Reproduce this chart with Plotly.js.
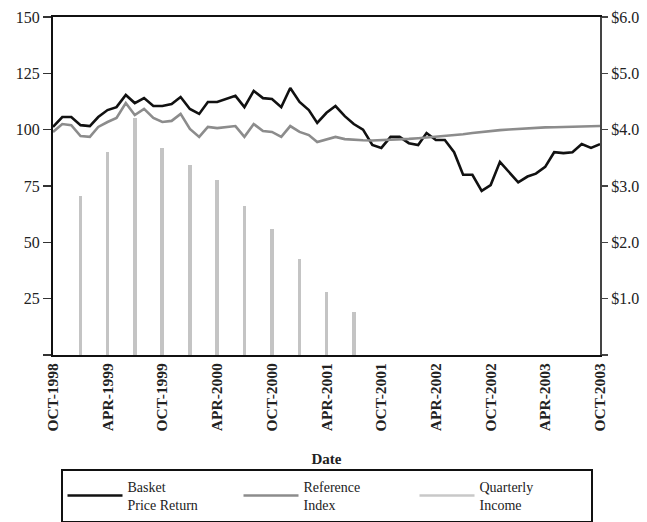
<!DOCTYPE html>
<html>
<head>
<meta charset="utf-8">
<script src="https://cdn.plot.ly/plotly-3.0.1.min.js"></script>
<style>html,body{margin:0;padding:0;background:#fff;}#chart{width:647px;height:522px;}</style>
</head>
<body>
<div id="chart"></div>
<script>
var months = ["1998-10","1998-11","1998-12","1999-01","1999-02","1999-03","1999-04","1999-05","1999-06","1999-07","1999-08","1999-09",
"1999-10","1999-11","1999-12","2000-01","2000-02","2000-03","2000-04","2000-05","2000-06","2000-07","2000-08","2000-09",
"2000-10","2000-11","2000-12","2001-01","2001-02","2001-03","2001-04","2001-05","2001-06","2001-07","2001-08","2001-09",
"2001-10","2001-11","2001-12","2002-01","2002-02","2002-03","2002-04","2002-05","2002-06","2002-07","2002-08","2002-09",
"2002-10","2002-11","2002-12","2003-01","2003-02","2003-03","2003-04","2003-05","2003-06","2003-07","2003-08","2003-09","2003-10"];

var basket = [101.2,105.6,105.6,102,101.6,105.6,108.7,110,115.4,111.8,
114,110.5,110.5,111.4,114.5,109.2,107,112.3,112.3,113.6,
115,110,117.2,114,113.6,110,118.5,112.3,108.7,103,
107.5,110.5,106,102.5,100,93.2,91.9,96.8,96.8,94,
93.2,98.5,95.4,95.4,90,80,80,72.8,75.4,85.7,
81.3,76.6,79.2,80.5,83.5,90,89.6,90,93.6,91.9,93.6];

var reference = [99,102.5,102,97.2,96.8,101.2,103.4,105.2,111.8,106.5,
109.2,105.2,103.4,103.9,107,100.3,96.8,101.2,100.7,101.2,
101.6,96.8,102.5,99.4,99,96.8,101.6,99,97.6,94.5,
95.8,96.8,95.8,95.4,95.3,95.2,95.3,95.5,95.7,95.9,
96.2,96.5,96.9,97.3,97.7,98.0,98.5,99.0,99.5,99.8,
100.1,100.4,100.6,100.8,101.0,101.1,101.2,101.3,101.4,101.5,101.6];

var incomeDates = ["1999-01","1999-04","1999-07","1999-10","2000-01","2000-04","2000-07","2000-10","2001-01","2001-04","2001-07"];
var income = [2.83,3.60,4.20,3.68,3.37,3.10,2.64,2.23,1.70,1.12,0.76];

var xTickVals = ["1998-10","1999-04","1999-10","2000-04","2000-10","2001-04","2001-10","2002-04","2002-10","2003-04","2003-10"];
var xTickText = ["OCT-1998","APR-1999","OCT-1999","APR-2000","OCT-2000","APR-2001","OCT-2001","APR-2002","OCT-2002","APR-2003","OCT-2003"];
var leftTickVals = [0,25,50,75,100,125,150];
var leftTickText = ["","25","50","75","100","125","150"];
var rightTickVals = [0,1,2,3,4,5,6];
var rightTickText = ["","$1.0","$2.0","$3.0","$4.0","$5.0","$6.0"];

var serif = "Liberation Serif, Times New Roman, serif";

var traces = [
  {type:"bar", x:incomeDates, y:income, yaxis:"y", name:"Quarterly<br>Income",
   marker:{color:"#c4c4c4"}, width:1.1e9, showlegend:false, hoverinfo:"skip"},
  {type:"scatter", mode:"lines", x:months, y:basket, yaxis:"y2", name:"Basket<br>Price Return",
   line:{color:"#111111", width:2.6}},
  {type:"scatter", mode:"lines", x:months, y:reference, yaxis:"y2", name:"Reference<br>Index",
   line:{color:"#8c8c8c", width:2.6}},
  {type:"scatter", mode:"lines", x:[null], y:[null], yaxis:"y2", name:"Quarterly<br>Income",
   line:{color:"#c8c8c8", width:2.6}}
];

var layout = {
  width:647, height:522,
  paper_bgcolor:"#ffffff", plot_bgcolor:"#ffffff",
  margin:{l:53, r:47, t:17, b:167},
  font:{family:serif, size:15, color:"#222"},
  showlegend:true,
  bargap:0,
  xaxis:{type:"date", range:["1998-10-01","2003-10-01"], automargin:false,
    tickvals:xTickVals, ticktext:xTickText, tickangle:-90,
    tickfont:{family:serif, size:15.5, color:"#222", weight:"bold"},
    showline:true, mirror:true, linecolor:"#111", linewidth:2,
    showgrid:false, zeroline:false, ticks:"",
    title:{text:"<b>Date</b>", font:{family:serif, size:15, color:"#222"}, standoff:23}},
  yaxis:{side:"right", range:[0,6], tickvals:rightTickVals, ticktext:rightTickText, automargin:false,
    showline:true, linecolor:"#444", linewidth:2, ticks:"outside", ticklen:6, tickwidth:1.5, tickcolor:"#444",
    showgrid:false, zeroline:false, tickfont:{family:serif, size:16, color:"#222"}},
  yaxis2:{side:"left", overlaying:"y", range:[0,150], tickvals:leftTickVals, ticktext:leftTickText, automargin:false,
    showline:true, linecolor:"#111", linewidth:2, ticks:"outside", ticklen:8, tickwidth:1.5, tickcolor:"#333",
    showgrid:false, zeroline:false, tickfont:{family:serif, size:16, color:"#222"}},
  legend:{orientation:"h", x:0.5, xanchor:"center", xref:"paper", yref:"container", y:0.102, yanchor:"top",
    bordercolor:"#111", borderwidth:2, bgcolor:"#fff", itemwidth:55,
    font:{family:serif, size:14, color:"#222"}, entrywidth:106, tracegroupgap:0,
    traceorder:"normal"}
};

Plotly.newPlot("chart", traces, layout, {displayModeBar:false, staticPlot:true});
</script>
</body>
</html>
